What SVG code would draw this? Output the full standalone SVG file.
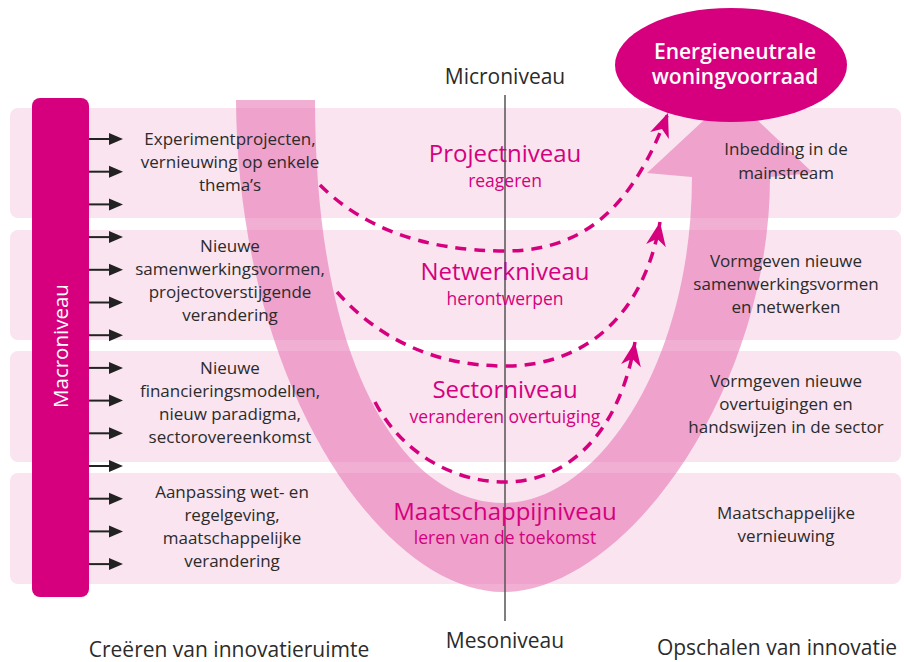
<svg xmlns="http://www.w3.org/2000/svg" width="904" height="662" viewBox="0 0 904 662">
<style>
.band{fill:#f9e4f0}
.dk{font-family:"Open Sans","Liberation Sans",sans-serif;font-size:17px;fill:#2b2b2b;text-anchor:middle}
.mg{font-family:"Open Sans","Liberation Sans",sans-serif;fill:#d6007e;text-anchor:middle}
.big{font-size:24px}
.sub{font-size:17.5px}
.lbl{font-family:"Open Sans","Liberation Sans",sans-serif;font-size:21px;fill:#2b2b2b;text-anchor:middle}
.wt{font-family:"Open Sans","Liberation Sans",sans-serif;font-size:21px;font-weight:600;fill:#fff;text-anchor:middle}
.dash{fill:none;stroke:#d6007e;stroke-width:3.5;stroke-dasharray:11 8}
.ln{stroke:#222;stroke-width:2}
</style>
<defs>
<marker id="mh" viewBox="-26 -12 28 24" refX="0" refY="0" markerWidth="28" markerHeight="24" markerUnits="userSpaceOnUse" orient="auto">
<path d="M0,0 L-24,-10 L-17,0 L-24,10 Z" fill="#d6007e"/>
</marker>
<path id="ah" d="M0,-6 L14,0 L0,6 Z" fill="#222"/>
</defs>
<g id="bands">
<rect class="band" x="10" y="108" width="891" height="110" rx="8"/>
<rect class="band" x="10" y="230" width="891" height="110" rx="8"/>
<rect class="band" x="10" y="351" width="891" height="111" rx="8"/>
<rect class="band" x="10" y="473" width="891" height="111" rx="8"/>
</g>
<g id="u-arrow">
<path d="M236,100 C238,390 385,592 503,592 C625,592 770,390 770,177 L813,173 L731,95 L647,173 L692,177 C692,360 600,503 503,503 C410,503 315,380 315,100 Z" fill="#e35fa8" fill-opacity="0.5"/>
</g>
<g id="axis">
<line x1="505" y1="95" x2="505" y2="621" stroke="#555" stroke-width="1.5"/>
</g>
<g id="goal">
<ellipse cx="731" cy="65" rx="116" ry="57" fill="#d6007e"/>
<text class="wt" x="735" y="59">Energieneutrale</text>
<text class="wt" x="735" y="84">woningvoorraad</text>
</g>
<g id="connectors">
<path class="dash" d="M320,185 C360,225 420,251 505,251 C590,251 635,200 668,113" marker-end="url(#mh)"/>
<path class="dash" d="M337,292 C375,335 430,366 505,366 C590,366 645,310 660,222" marker-end="url(#mh)"/>
<path class="dash" d="M375,402 C400,450 450,482 505,482 C570,482 620,430 635,342" marker-end="url(#mh)"/>
</g>
<g id="macro">
<rect x="32" y="98" width="57" height="499" rx="8" fill="#d6007e"/>
<text transform="translate(68,346) rotate(-90)" font-family="'Open Sans','Liberation Sans',sans-serif" font-size="20.5" fill="#fff" text-anchor="middle">Macroniveau</text>
</g>
<g id="macro-arrows">
<g transform="translate(0,139)"><line class="ln" x1="89" y1="0" x2="111" y2="0"/><use href="#ah" x="109"/></g>
<g transform="translate(0,171.7)"><line class="ln" x1="89" y1="0" x2="111" y2="0"/><use href="#ah" x="109"/></g>
<g transform="translate(0,204.4)"><line class="ln" x1="89" y1="0" x2="111" y2="0"/><use href="#ah" x="109"/></g>
<g transform="translate(0,237.1)"><line class="ln" x1="89" y1="0" x2="111" y2="0"/><use href="#ah" x="109"/></g>
<g transform="translate(0,269.8)"><line class="ln" x1="89" y1="0" x2="111" y2="0"/><use href="#ah" x="109"/></g>
<g transform="translate(0,302.5)"><line class="ln" x1="89" y1="0" x2="111" y2="0"/><use href="#ah" x="109"/></g>
<g transform="translate(0,335.2)"><line class="ln" x1="89" y1="0" x2="111" y2="0"/><use href="#ah" x="109"/></g>
<g transform="translate(0,367.9)"><line class="ln" x1="89" y1="0" x2="111" y2="0"/><use href="#ah" x="109"/></g>
<g transform="translate(0,400.6)"><line class="ln" x1="89" y1="0" x2="111" y2="0"/><use href="#ah" x="109"/></g>
<g transform="translate(0,433.3)"><line class="ln" x1="89" y1="0" x2="111" y2="0"/><use href="#ah" x="109"/></g>
<g transform="translate(0,466)"><line class="ln" x1="89" y1="0" x2="111" y2="0"/><use href="#ah" x="109"/></g>
<g transform="translate(0,498.7)"><line class="ln" x1="89" y1="0" x2="111" y2="0"/><use href="#ah" x="109"/></g>
<g transform="translate(0,531.4)"><line class="ln" x1="89" y1="0" x2="111" y2="0"/><use href="#ah" x="109"/></g>
<g transform="translate(0,564.1)"><line class="ln" x1="89" y1="0" x2="111" y2="0"/><use href="#ah" x="109"/></g>
</g>
<g id="left-texts">
<text class="dk" x="230" y="145">Experimentprojecten,</text>
<text class="dk" x="230" y="168">vernieuwing op enkele</text>
<text class="dk" x="230" y="191">thema’s</text>
<text class="dk" x="230" y="252">Nieuwe</text>
<text class="dk" x="230" y="275">samenwerkingsvormen,</text>
<text class="dk" x="230" y="298">projectoverstijgende</text>
<text class="dk" x="230" y="321">verandering</text>
<text class="dk" x="230" y="374">Nieuwe</text>
<text class="dk" x="230" y="397">financieringsmodellen,</text>
<text class="dk" x="230" y="420">nieuw paradigma,</text>
<text class="dk" x="230" y="443">sectorovereenkomst</text>
<text class="dk" x="232" y="498">Aanpassing wet- en</text>
<text class="dk" x="232" y="521">regelgeving,</text>
<text class="dk" x="232" y="544">maatschappelijke</text>
<text class="dk" x="232" y="567">verandering</text>
</g>
<g id="right-texts">
<text class="dk" x="786" y="155">Inbedding in de</text>
<text class="dk" x="786" y="179">mainstream</text>
<text class="dk" x="786" y="267">Vormgeven nieuwe</text>
<text class="dk" x="786" y="290">samenwerkingsvormen</text>
<text class="dk" x="786" y="313">en netwerken</text>
<text class="dk" x="786" y="387">Vormgeven nieuwe</text>
<text class="dk" x="786" y="410">overtuigingen en</text>
<text class="dk" x="786" y="433">handswijzen in de sector</text>
<text class="dk" x="786" y="519">Maatschappelijke</text>
<text class="dk" x="786" y="542">vernieuwing</text>
</g>
<g id="levels">
<text class="mg big" x="505" y="162">Projectniveau</text>
<text class="mg sub" x="505" y="187">reageren</text>
<text class="mg big" x="505" y="280">Netwerkniveau</text>
<text class="mg sub" x="505" y="305">herontwerpen</text>
<text class="mg big" x="505" y="398">Sectorniveau</text>
<text class="mg sub" x="505" y="423">veranderen overtuiging</text>
<text class="mg big" x="505" y="520">Maatschappijniveau</text>
<text class="mg sub" x="505" y="544">leren van de toekomst</text>
</g>
<g id="axis-labels">
<text class="lbl" x="505" y="84">Microniveau</text>
<text class="lbl" x="505" y="648">Mesoniveau</text>
<text class="lbl" x="229" y="657">Creëren van innovatieruimte</text>
<text class="lbl" x="777" y="655">Opschalen van innovatie</text>
</g>
</svg>
